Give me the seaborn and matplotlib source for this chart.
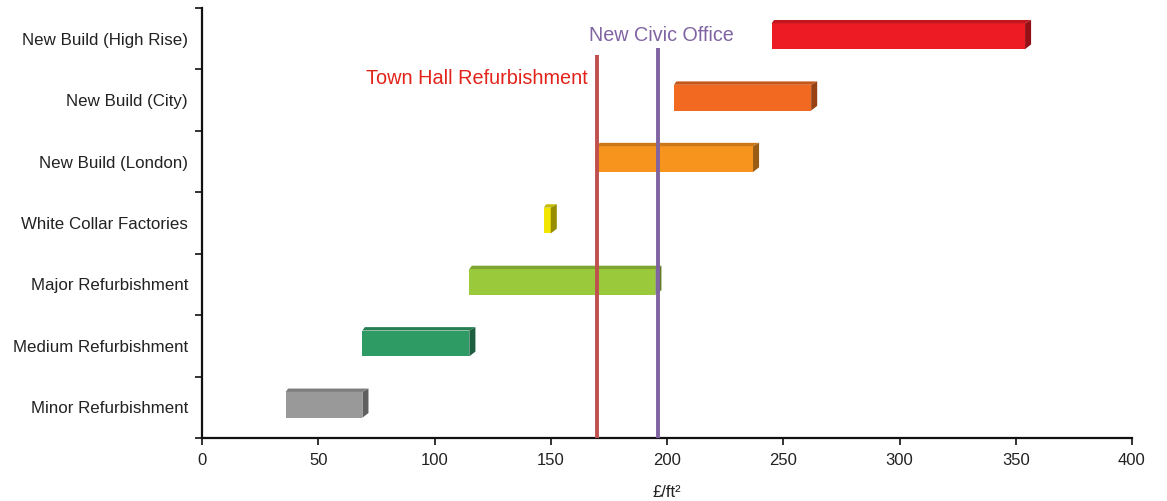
import matplotlib
matplotlib.use("Agg")
import matplotlib.pyplot as plt
from matplotlib.patches import Polygon
import matplotlib.colors as mcolors
import seaborn as sns
import pandas as pd

# Cost ranges per building type (£/ft²)
categories = [
    "New Build (High Rise)",
    "New Build (City)",
    "New Build (London)",
    "White Collar Factories",
    "Major Refurbishment",
    "Medium Refurbishment",
    "Minor Refurbishment",
]
range_start = [245, 203, 170, 147, 115, 69, 36]
range_end = [354, 262, 237, 150, 195, 115, 69]
bar_colors = ["#ED1C24", "#F26A21", "#F7941D", "#F2E500", "#9BC93C", "#2E9B65", "#999999"]

# Reference project costs
ref_labels = ["Town Hall Refurbishment", "New Civic Office"]
ref_values = [170, 196]
ref_colors = ["#C0504D", "#8064A2"]
ref_text_colors = ["#E2231A", "#8064A2"]

x_ticks = [0, 50, 100, 150, 200, 250, 300, 350, 400]

sns.set_theme(style="white")
plt.rcParams["font.family"] = ["Liberation Sans", "DejaVu Sans"]

df = pd.DataFrame({"category": categories, "start": range_start, "end": range_end})

fig = plt.figure(figsize=(11.67, 5.01), dpi=100)
ax = fig.add_axes([202 / 1167, 1 - 438 / 501, 930 / 1167, 430 / 501])

sns.barplot(data=df, x="end", y="category", hue="category", palette=bar_colors,
            order=categories, hue_order=categories, legend=False,
            width=0.42, saturation=1, linewidth=0, ax=ax, zorder=2)

# Turn each bar into a floating range and give it a bevelled 3D look
dx, dy = 2.6, 0.055
for patch in list(ax.patches):
    yc = patch.get_y() + patch.get_height() / 2
    i = int(round(yc))
    s, e = range_start[i], range_end[i]
    patch.set_x(s)
    patch.set_width(e - s)
    patch.set_y(patch.get_y() - 0.04)
    y0 = patch.get_y()
    h = patch.get_height()
    base = mcolors.to_rgb(bar_colors[i])
    top_c = tuple(c * 0.82 for c in base)
    side_c = tuple(c * 0.62 for c in base)
    top = Polygon([(s, y0), (s + dx * 0.4, y0 - dy), (e + dx, y0 - dy), (e, y0)],
                  closed=True, facecolor=top_c, edgecolor="none", zorder=2)
    side = Polygon([(e, y0), (e + dx, y0 - dy), (e + dx, y0 + h - dy * 1.4), (e, y0 + h)],
                   closed=True, facecolor=side_c, edgecolor="none", zorder=2)
    ax.add_patch(top)
    ax.add_patch(side)

ax.set_xlim(0, 400)
ax.set_ylim(6.5, -0.5)

# Reference lines
line_tops = [0.27, 0.15]
for val, col, top_y in zip(ref_values, ref_colors, line_tops):
    ax.plot([val, val], [6.5, top_y], color=col, lw=2.8, zorder=4, solid_capstyle="butt")

ax.text(ref_values[0] - 4, 0.64, ref_labels[0], color=ref_text_colors[0], fontsize=14.3,
        ha="right", va="center", zorder=5)
ax.text(ref_values[1] + 1.5, -0.06, ref_labels[1], color=ref_text_colors[1], fontsize=14.2,
        ha="center", va="center", zorder=5)

# Axes styling
for side_name in ["top", "right"]:
    ax.spines[side_name].set_visible(False)
for side_name in ["left", "bottom"]:
    ax.spines[side_name].set_color("#111111")
    ax.spines[side_name].set_linewidth(1.6)

ax.set_xticks(x_ticks)
ax.set_xticklabels([str(t) for t in x_ticks])
ax.tick_params(axis="x", direction="out", length=5, width=1.2, color="#111111",
               labelsize=12, labelcolor="#222222", pad=6, bottom=True)
ax.set_yticks(range(len(categories)))
ax.set_yticklabels(categories)
ax.tick_params(axis="y", which="major", length=0, labelsize=12.2, labelcolor="#222222", pad=10)
ax.set_yticks([k - 0.5 for k in range(len(categories) + 1)], minor=True)
ax.tick_params(axis="y", which="minor", direction="out", length=5, width=1.2,
               color="#111111", left=True)

ax.set_ylabel("")
ax.set_xlabel("£/ft²", fontsize=12, color="#222222", labelpad=12)
ax.grid(False)

fig.savefig("out.png", dpi=100)
